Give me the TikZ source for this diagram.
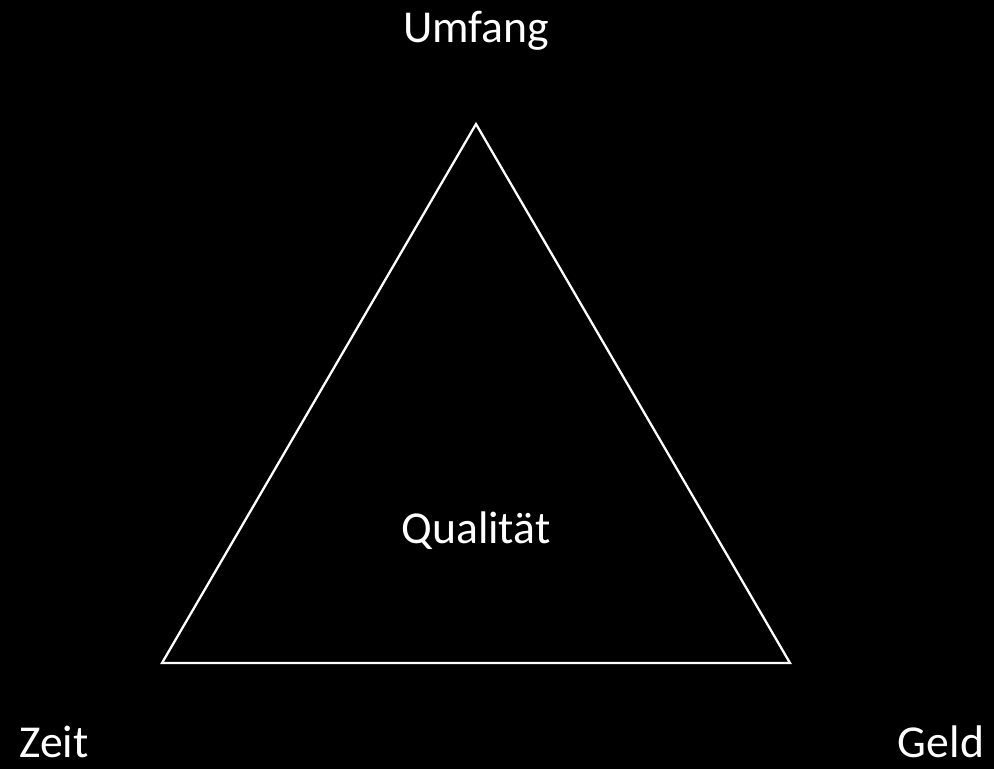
\documentclass[tikz,border=0pt]{standalone}
\usepackage{fontspec}
\setmainfont{Carlito}
\usetikzlibrary{positioning}

\begin{document}
\begin{tikzpicture}[
    x=0.02cm, y=-0.02cm,
    lbl/.style={text=white, inner sep=0pt, font=\fontsize{26}{31}\selectfont},
    edge/.style={draw=white, line width=1.3pt, line join=miter},
  ]
    \fill[black] (0,0) rectangle (994,769);
    \useasboundingbox (0,0) rectangle (994,769);

    \coordinate (top)   at (476,124);
    \coordinate (left)  at (162,663);
    \coordinate (right) at (790,663);
    \draw[edge] (top) -- (left) -- (right) -- cycle;

    \node[lbl] (umfang)    at (476,31)  {Umfang};
    \node[lbl] (qualitaet) at (476,531) {Qualität};
    \node[lbl] (zeit)      at (54,742)  {Zeit};
    \node[lbl] (geld)      at (941,742) {Geld};
  \end{tikzpicture}
\end{document}
